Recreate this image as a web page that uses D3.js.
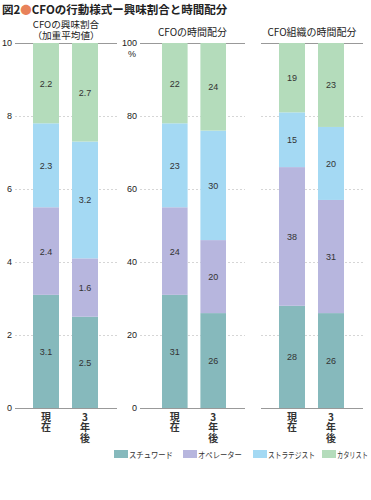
<!DOCTYPE html>
<html><head><meta charset="utf-8">
<script src="https://cdn.jsdelivr.net/npm/d3@7"></script>
<style>body{margin:0;background:#fff}svg{display:block;font-family:"Noto Sans CJK JP","Noto Sans",sans-serif}</style>
</head><body>
<script>
const series = ["スチュワード","オペレーター","ストラテジスト","カタリスト"];
const colors = ["#86b9bc","#b7b6de","#a4d9f3","#b4dcbb"];
const categories = ["現在","3年後"];
const interestValues = [[3.1,2.4,2.3,2.2],[2.5,1.6,3.2,2.7]];
const cfoTimeValues = [[31,24,23,22],[26,20,30,24]];
const orgTimeValues = [[28,38,15,19],[26,31,20,23]];
const interestTicks = [0,2,4,6,8,10];
const pctTicks = [0,20,40,60,80,100];

(function(){
const W=371,H=500;
const svg=d3.select("body").append("svg").attr("width",W).attr("height",H);

const t=svg.append("text").attr("x",2).attr("y",14).attr("font-size",11.5).attr("font-weight","bold").attr("fill","#222");
t.append("tspan").text("図2");
t.append("tspan").attr("fill","#e8825a").text("●");
t.append("tspan").text("CFOの行動様式ー興味割合と時間配分");

const yTop=43,yBottom=408;
const panels=[
  {title:["CFOの興味割合","（加重平均値）"],data:interestValues,max:10,ticks:interestTicks,x0:15,x1:117,labels:true,pct:false,bars:[33,72]},
  {title:["CFOの時間配分"],data:cfoTimeValues,max:100,ticks:pctTicks,x0:140,x1:245,labels:true,pct:true,bars:[162,200]},
  {title:["CFO組織の時間配分"],data:orgTimeValues,max:100,ticks:pctTicks,x0:261,x1:363,labels:false,pct:true,bars:[279,318]}
];

panels.forEach(p=>{
  const g=svg.append("g");
  const y=d3.scaleLinear().domain([0,p.max]).range([yBottom,yTop]);
  const x=d3.scaleBand().domain(categories).range([p.bars[0],p.bars[1]+26]).paddingInner(1/3).paddingOuter(0);
  const cx=(p.x0+p.x1)/2;
  if(p.title.length>1){
    const fo=g.append("foreignObject").attr("x",cx-50).attr("y",19).attr("width",100).attr("height",23);
    fo.append("xhtml:div").style("font-family","'Noto Sans CJK JP',sans-serif").style("font-size","9.6px")
      .style("line-height","11px").style("text-align","center").style("color","#222")
      .style("white-space","pre-line").text(p.title.join("\n"));
  } else {
    g.append("text").attr("x",cx).attr("y",36).attr("text-anchor","middle")
      .attr("font-size",10).attr("fill","#222").text(p.title[0]);
  }
  p.ticks.forEach(tk=>{
    const yy=Math.round(y(tk))+0.5;
    const edge = tk===0||tk===p.max;
    g.append("line").attr("x1",p.x0).attr("x2",p.x1).attr("y1",yy).attr("y2",yy)
      .attr("stroke",edge?"#999":"#ccc").attr("stroke-width",edge?1:0.8)
      .attr("stroke-dasharray",edge?null:"2,2");
  });
  if(p.labels){
    const ax=d3.axisLeft(y).tickValues(p.ticks).tickSize(0).tickPadding(3);
    const ag=g.append("g").attr("transform",`translate(${p.x0},0)`).call(ax);
    ag.select(".domain").remove();
    ag.selectAll("text").attr("font-size",9).attr("fill","#222").attr("font-family","'Liberation Sans',Arial,sans-serif");
    if(p.pct){
      g.append("text").attr("x",p.x0-8).attr("y",y(p.max)+13.5).attr("text-anchor","middle").attr("font-size",9)
        .attr("font-family","'Liberation Sans',Arial,sans-serif").attr("fill","#222").text("%");
    }
  }
  p.data.forEach((vals,ci)=>{
    let acc=0;
    const cat=categories[ci];
    vals.forEach((v,si)=>{
      const y0=y(acc),y1=y(acc+v);
      g.append("rect").attr("x",x(cat)).attr("width",x.bandwidth()).attr("y",y1).attr("height",y0-y1).attr("fill",colors[si]);
      g.append("text").attr("x",x(cat)+x.bandwidth()/2).attr("y",(y0+y1)/2+3.5).attr("text-anchor","middle")
        .attr("font-size",9).attr("fill","#333").attr("font-family","'Liberation Sans',Arial,sans-serif").text(v);
      acc+=v;
    });
    g.append("text").attr("x",x(cat)+x.bandwidth()/2).attr("y",412)
      .style("writing-mode","vertical-rl").style("text-orientation","upright")
      .attr("letter-spacing",0.5)
      .attr("font-size",10).attr("font-weight","bold").attr("fill","#333").text(cat);
  });
});

const lx=[114,183,253,322];
const lw=[44,44,47,31];
series.forEach((s,i)=>{
  svg.append("rect").attr("x",lx[i]).attr("y",450).attr("width",14).attr("height",8).attr("fill",colors[i]);
  const tx=svg.append("text").attr("x",0).attr("y",0).attr("font-size",8.5).attr("fill","#333").text(s);
  const w=tx.node().getComputedTextLength();
  tx.attr("transform",`translate(${lx[i]+15},457.5) scale(${lw[i]/w},1)`);
});
})();
</script>
</body></html>
